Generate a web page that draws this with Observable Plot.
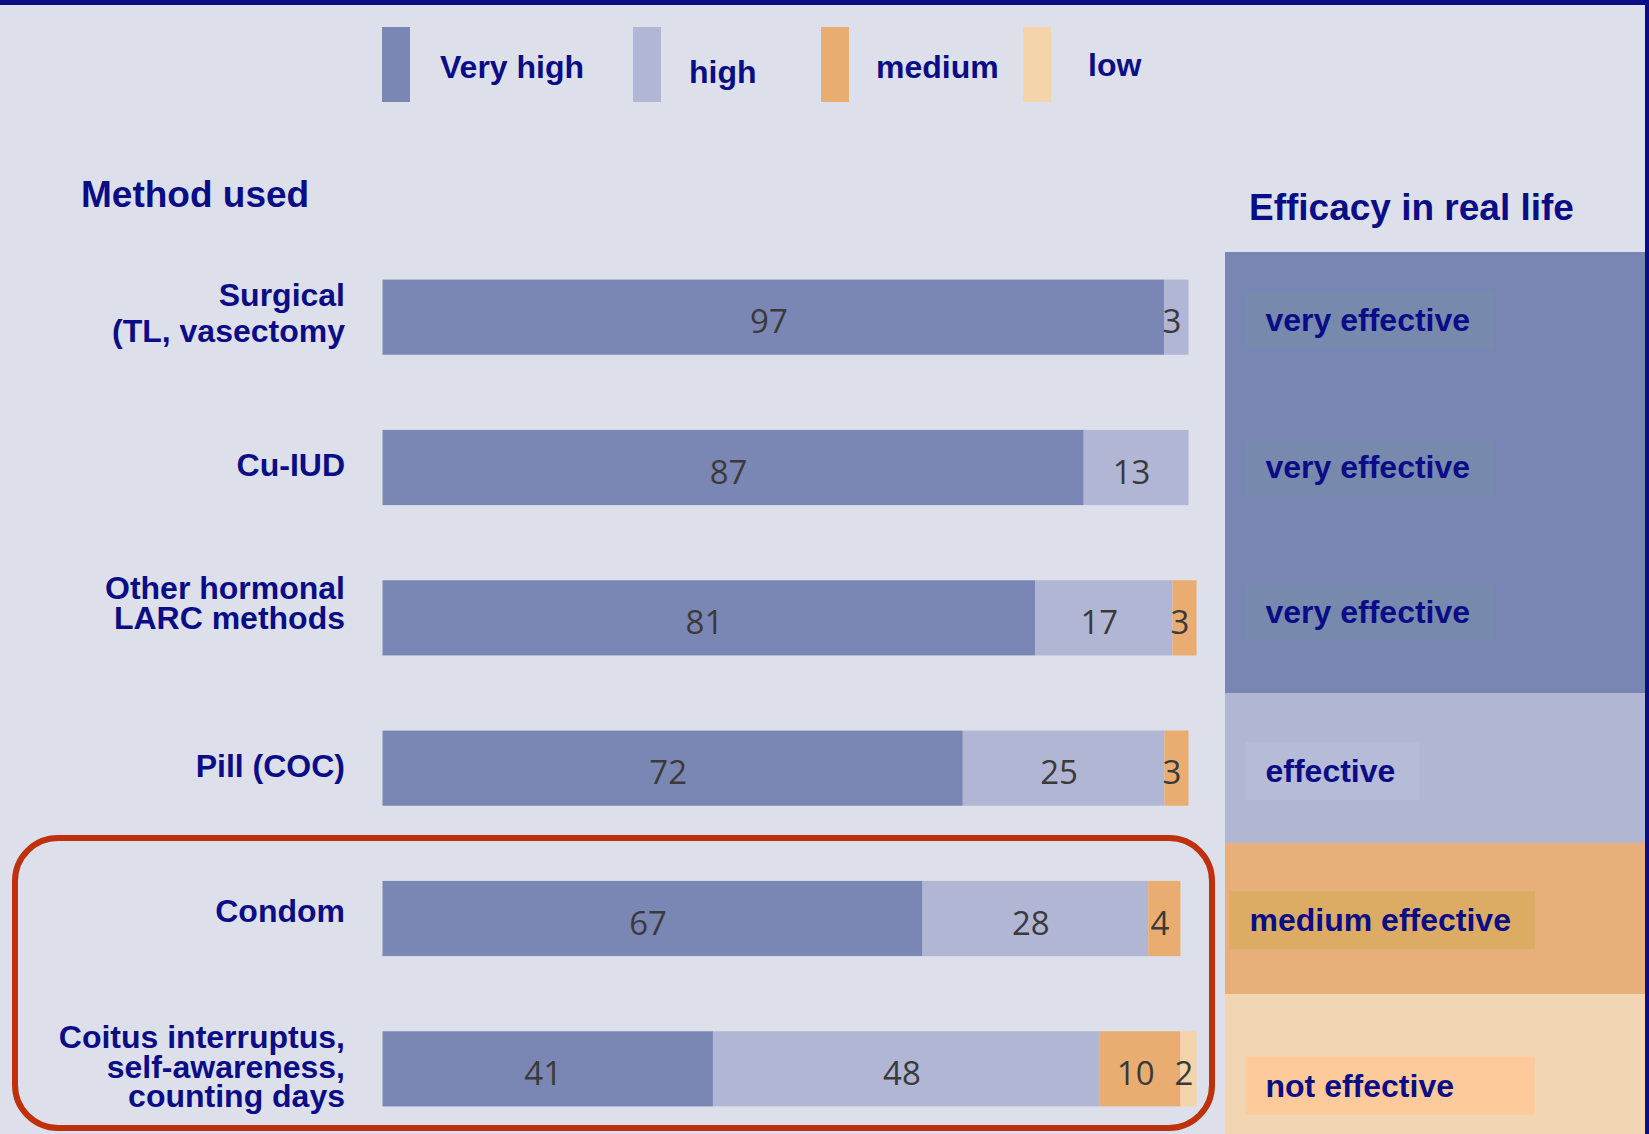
<!DOCTYPE html>
<html>
<head>
<meta charset="utf-8">
<script src="https://cdn.jsdelivr.net/npm/d3@7"></script>
<script src="https://cdn.jsdelivr.net/npm/@observablehq/plot@0.6"></script>
<style>
  html, body { margin: 0; padding: 0; background: #dde0ea; overflow: hidden; }
  #wrap { position: relative; width: 1649px; height: 1134px; overflow: hidden; background: #dde0ea;
          font-family: "Liberation Sans", Arial, sans-serif; }
  .abs { position: absolute; }
  .navytxt { color: #0b0d86; font-weight: bold; white-space: nowrap; line-height: 1; }
</style>
</head>
<body>
<div id="wrap"></div>
<script>
// ---------------- DATA ----------------
const methods = [
  "Surgical\n(TL, vasectomy",
  "Cu-IUD",
  "Other hormonal\nLARC methods",
  "Pill (COC)",
  "Condom",
  "Coitus interruptus,\nself-awareness,\ncounting days"
];
const levels = ["Very high", "high", "medium", "low"];
const veryHighValues = [97, 87, 81, 72, 67, 41];
const highValues     = [3, 13, 17, 25, 28, 48];
const mediumValues   = [0, 0, 3, 3, 4, 10];
const lowValues      = [0, 0, 0, 0, 0, 2];
const efficacy = ["very effective", "very effective", "very effective", "effective", "medium effective", "not effective"];
const efficacyClasses = ["very effective", "effective", "medium effective", "not effective"];

// ---------------- STYLE ----------------
const navy = "#0b0d86";
const levelColors = ["#7a86b4", "#b1b6d4", "#e9ad71", "#f5d4a9"];
const panelColors = ["#7985b3", "#b1b6d3", "#e7b07b", "#f2d5b3"];
const boxColors   = ["#7889ae", "#b6bbd7", "#dcac64", "#fdcb9b"];
const labelFont = "Liberation Sans, Arial, sans-serif";

const seriesByLevel = [veryHighValues, highValues, mediumValues, lowValues];
const rows = [];
methods.forEach((m, i) => {
  seriesByLevel.forEach((arr, j) => {
    if (arr[i] > 0) rows.push({method: m, level: levels[j], value: arr[i]});
  });
});
const panelRows = methods.map((m, i) => ({method: m, cls: efficacy[i]}));

const wrap = document.getElementById("wrap");

// ---------------- MAIN BAR CHART ----------------
const labelOpts = (filter, lineHeight, dy) => ({
  filter, x: 0, y: d => d, text: d => d, textAnchor: "end", dx: -38, dy,
  lineHeight, fill: navy, fontSize: 32, fontWeight: "bold", fontFamily: labelFont
});

const main = Plot.plot({
  width: 1225, height: 1134, margin: 0,
  style: {background: "transparent", overflow: "visible", fontFamily: labelFont},
  x: {domain: [0, 100], range: [382.5, 1188.5], axis: null},
  y: {domain: methods, range: [242, 1144], paddingInner: 0.5, paddingOuter: 0.25, align: 0.5, round: false, axis: null},
  color: {domain: levels, range: levelColors},
  marks: [
    Plot.barX(rows, {x: "value", y: "method", fill: "level"}),
    Plot.text(rows, Plot.stackX({x: "value", y: "method", z: "level", text: "value",
      fill: "#3a3a3a", fontSize: 33, fontFamily: "Open Sans, Noto Sans, sans-serif", dx: -5, dy: 5})),
    Plot.text(methods, labelOpts(d => d === methods[0], 1.15, -5.5)),
    Plot.text(methods, labelOpts(d => d === methods[2], 0.94, -14)),
    Plot.text(methods, labelOpts(d => d === methods[4], 0.92, -6)),
    Plot.text(methods, labelOpts(d => d !== methods[0] && d !== methods[2] && d !== methods[4], 0.92, -1))
  ]
});
main.style.position = "absolute";
main.style.left = "0px";
main.style.top = "0px";
wrap.appendChild(main);

// ---------------- EFFICACY PANEL ----------------
const panelTop = 252;
const panelText = (filter, dx, dy) => ({
  filter, y: "method", text: "cls", frameAnchor: "left", textAnchor: "start", dx, dy,
  fill: navy, fontSize: 32, fontWeight: "bold", fontFamily: labelFont
});
const panel = Plot.plot({
  width: 420, height: 1134 - panelTop, margin: 0,
  style: {background: "transparent", overflow: "hidden", fontFamily: labelFont},
  y: {domain: methods, range: [242 - panelTop, 1144 - panelTop], padding: 0, round: false, axis: null},
  color: {domain: efficacyClasses, range: panelColors},
  marks: [
    Plot.cell(panelRows, {y: "method", fill: "cls", shapeRendering: "crispEdges"}),
    Plot.text(panelRows, panelText(d => d.method === methods[0], 40, 3)),
    Plot.text(panelRows, panelText(d => d.method === methods[1], 40, 0)),
    Plot.text(panelRows, panelText(d => d.method === methods[2], 40, -6)),
    Plot.text(panelRows, panelText(d => d.cls === "effective", 40, 3)),
    Plot.text(panelRows, panelText(d => d.cls === "medium effective", 24, 2)),
    Plot.text(panelRows, panelText(d => d.cls === "not effective", 40, 17))
  ]
});
panel.style.position = "absolute";
panel.style.left = "1225px";
panel.style.top = panelTop + "px";
wrap.appendChild(panel);

// boxes behind panel labels, sized from the rendered text (in panel coordinates)
{
  const pr = panel.getBoundingClientRect();
  const texts = Array.from(panel.querySelectorAll('g[aria-label="text"] text'));
  const boxes = texts.map(t => {
    const r = t.getBoundingClientRect();
    const k = efficacyClasses.indexOf(t.textContent);
    return {k, x0: r.left - pr.left - 20, x1: r.right - pr.left + 24, cy: (r.top + r.bottom) / 2 - pr.top};
  });
  // warm-coloured labels share one right edge
  const warmRight = d3.max(boxes.filter(b => b.k >= 2), b => b.x1);
  boxes.forEach(b => { if (b.k >= 2) b.x1 = warmRight; });
  const g = document.createElementNS("http://www.w3.org/2000/svg", "g");
  boxes.forEach(b => {
    const rect = document.createElementNS("http://www.w3.org/2000/svg", "rect");
    rect.setAttribute("x", b.x0);
    rect.setAttribute("y", b.cy - 29);
    rect.setAttribute("width", b.x1 - b.x0);
    rect.setAttribute("height", 58);
    rect.setAttribute("fill", boxColors[b.k]);
    g.appendChild(rect);
  });
  const firstText = panel.querySelector('g[aria-label="text"]');
  firstText.parentNode.insertBefore(g, firstText);
}

// ---------------- LEGEND ----------------
const legendSwatchX = [382, 633, 821, 1023];
const legendLabelX = [440, 689, 876, 1088];
const legendBaseline = [78, 83, 78, 76];
levels.forEach((lv, i) => {
  const sw = document.createElement("div");
  sw.className = "abs";
  Object.assign(sw.style, {left: legendSwatchX[i] + "px", top: "27px", width: "28px", height: "75px", background: levelColors[i]});
  wrap.appendChild(sw);
  const lab = document.createElement("div");
  lab.className = "abs navytxt";
  lab.textContent = lv;
  Object.assign(lab.style, {left: legendLabelX[i] + "px", top: (legendBaseline[i] - 27.1) + "px", fontSize: "32px"});
  wrap.appendChild(lab);
});

// ---------------- TITLES ----------------
const addTitle = (txt, x, baseline) => {
  const d = document.createElement("div");
  d.className = "abs navytxt";
  d.textContent = txt;
  Object.assign(d.style, {left: x + "px", top: (baseline - 0.8465 * 37) + "px", fontSize: "37px"});
  wrap.appendChild(d);
};
addTitle("Method used", 81, 207);
addTitle("Efficacy in real life", 1249, 220);

// ---------------- HIGHLIGHT BOX & FRAME ----------------
const red = document.createElement("div");
red.className = "abs";
Object.assign(red.style, {left: "12px", top: "835px", width: "1203px", height: "296px", boxSizing: "border-box",
  border: "6px solid #bf300c", borderRadius: "46px"});
wrap.appendChild(red);

const topBar = document.createElement("div");
topBar.className = "abs";
Object.assign(topBar.style, {left: "0px", top: "0px", width: "1649px", height: "5px", background: navy});
wrap.appendChild(topBar);
const rightBar = document.createElement("div");
rightBar.className = "abs";
Object.assign(rightBar.style, {left: "1645px", top: "0px", width: "4px", height: "1134px", background: navy});
wrap.appendChild(rightBar);
</script>
</body>
</html>
